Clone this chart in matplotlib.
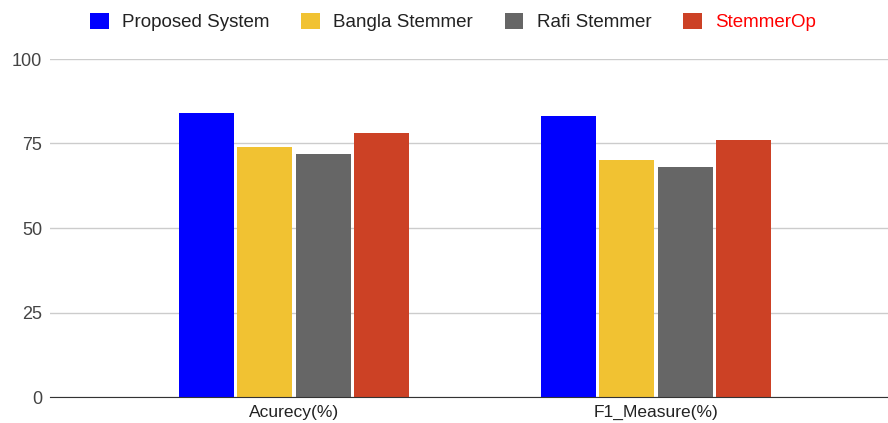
import matplotlib.pyplot as plt
import numpy as np

plt.rcParams['font.family'] = ['Liberation Sans', 'DejaVu Sans']

categories = ['Acurecy(%)', 'F1_Measure(%)']
series_names = ['Proposed System', 'Bangla Stemmer', 'Rafi Stemmer', 'StemmerOp']
proposed = [84, 83]
bangla = [74, 70]
rafi = [72, 68]
stemmerop = [78, 76]
yticks = [0, 25, 50, 75, 100]

colors = ['#0000FF', '#F1C232', '#666666', '#CC4125']
series = [proposed, bangla, rafi, stemmerop]

fig = plt.figure(figsize=(8.88, 4.23), dpi=100)
ax = fig.add_axes([50 / 888, 26 / 423, 838 / 888, 338 / 423])

x = np.arange(len(categories))
width = 0.152
step = 0.1616
for i, (vals, col, name) in enumerate(zip(series, colors, series_names)):
    ax.bar(x + (i - 1.5) * step, vals, width, color=col, label=name, zorder=3)

ax.set_ylim(0, 100)
ax.set_xlim(-0.674, 1.641)
ax.set_yticks(yticks)
ax.set_xticks(x)
ax.set_xticklabels(categories)
ax.grid(axis='y', color='#cccccc', linewidth=1, zorder=0)
for s in ['top', 'right', 'left']:
    ax.spines[s].set_visible(False)
ax.spines['bottom'].set_color('#333333')
ax.spines['bottom'].set_zorder(4)
ax.tick_params(axis='y', length=0, labelsize=13, colors='#444444', pad=5.5)
ax.tick_params(axis='x', length=0, labelsize=12.5, colors='#222222', pad=6)

leg = fig.legend(loc='center', bbox_to_anchor=(0.51, 1 - 22 / 423), ncol=4, frameon=False,
                 fontsize=13.5, handlelength=1.0, handleheight=1.0, columnspacing=1.7,
                 handletextpad=0.7)
for t in leg.get_texts():
    t.set_color('#222222')
leg.get_texts()[3].set_color('#FF0000')

fig.savefig('out.png', dpi=100)
